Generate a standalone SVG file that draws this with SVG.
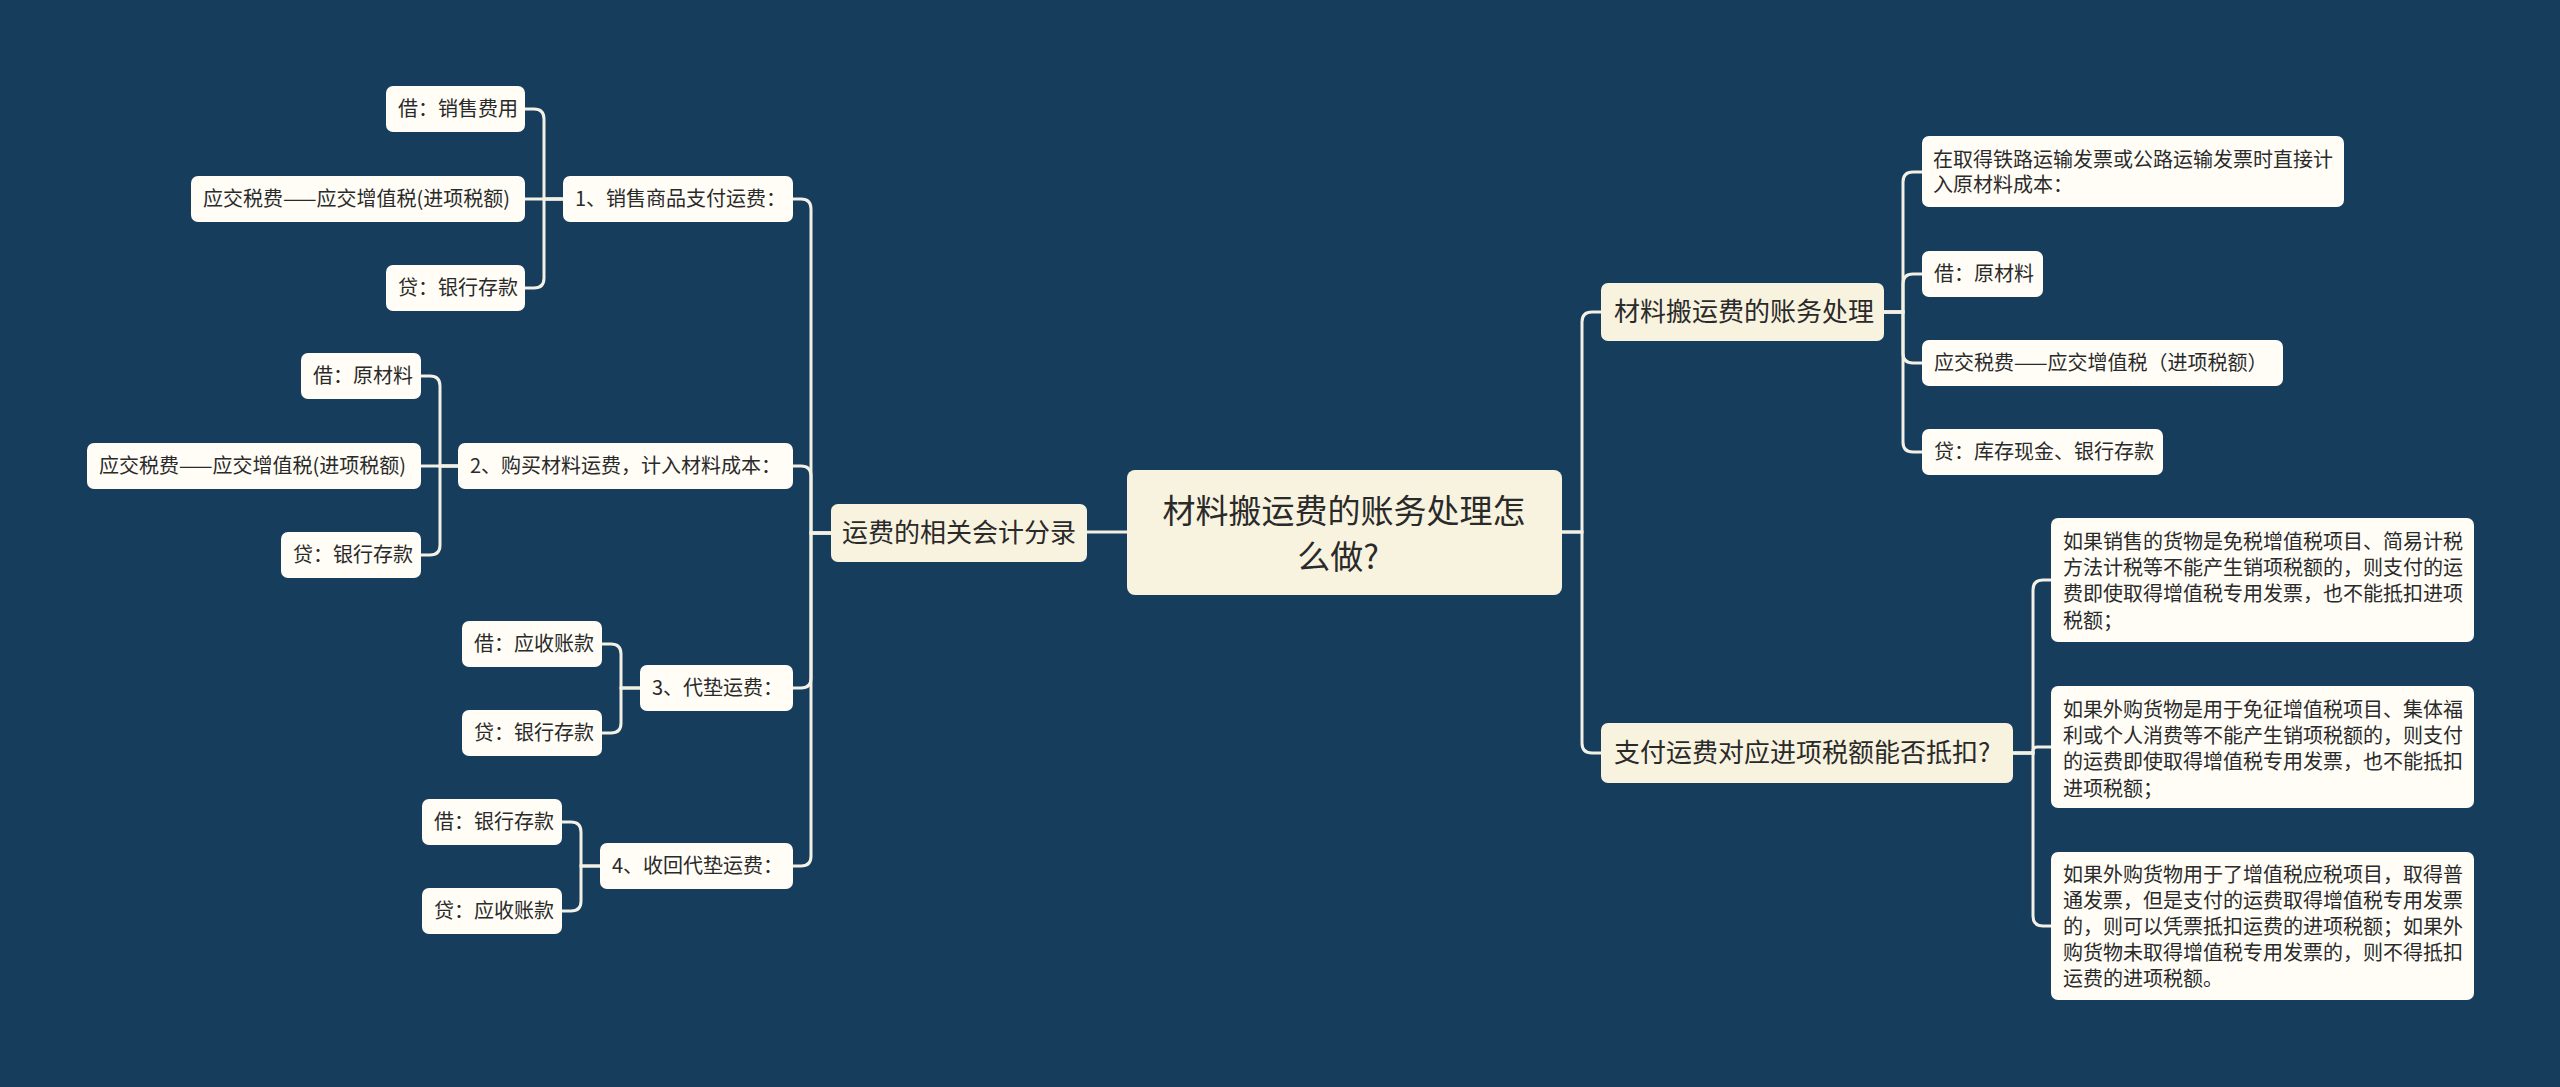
<svg xmlns="http://www.w3.org/2000/svg" width="2560" height="1087" viewBox="0 0 2560 1087">
<style>
text{font-family:"Noto Sans CJK SC","Noto Sans",sans-serif;fill:#2a2a2a}
.leaf{fill:#fffdf6}
.main{fill:#f8f3df}
.t20{font-size:20px}
.t26{font-size:26px}
.t33{font-size:33px}
.conn path{fill:none;stroke:#f3f0e6;stroke-width:3}
</style>
<rect x="0" y="0" width="2560" height="1087" fill="#173d5d"/>
<g class="conn" id="connectors">
<path d="M1127 532 H1087"/>
<path d="M831 533 H811 V209 Q811 199 801 199 H793"/>
<path d="M831 533 H811 V476 Q811 466 801 466 H793"/>
<path d="M831 533 H811 V678 Q811 688 801 688 H793"/>
<path d="M831 533 H811 V856 Q811 866 801 866 H793"/>
<path d="M563 199 H544 V119 Q544 109 534 109 H525"/>
<path d="M563 199 H525"/>
<path d="M563 199 H544 V278 Q544 288 534 288 H525"/>
<path d="M458 466 H440 V386 Q440 376 430 376 H421"/>
<path d="M458 466 H421"/>
<path d="M458 466 H440 V545 Q440 555 430 555 H421"/>
<path d="M640 688 H621 V654 Q621 644 611 644 H602"/>
<path d="M640 688 H621 V723 Q621 733 611 733 H602"/>
<path d="M600 866 H581 V832 Q581 822 571 822 H562"/>
<path d="M600 866 H581 V901 Q581 911 571 911 H562"/>
<path d="M1562 532 H1582 V322 Q1582 312 1592 312 H1601"/>
<path d="M1562 532 H1582 V743 Q1582 753 1592 753 H1601"/>
<path d="M1884 312 H1903 V182 Q1903 172 1913 172 H1922"/>
<path d="M1884 312 H1903 V284 Q1903 274 1913 274 H1922"/>
<path d="M1884 312 H1903 V353 Q1903 363 1913 363 H1922"/>
<path d="M1884 312 H1903 V442 Q1903 452 1913 452 H1922"/>
<path d="M2013 753 H2033 V590 Q2033 580 2043 580 H2051"/>
<path d="M2013 753 H2033 V751 Q2033 747 2037 747 H2051"/>
<path d="M2013 753 H2033 V916 Q2033 926 2043 926 H2051"/>
</g>
<g id="root">
<rect class="main" x="1127" y="470" width="435" height="125" rx="8"/>
<text class="t33" x="1344" y="523" text-anchor="middle">材料搬运费的账务处理怎</text>
<text class="t33" x="1338" y="569" text-anchor="middle">么做?</text>
</g>
<g id="branch-left">
<rect class="main" x="831" y="504" width="256" height="58" rx="7"/>
<text class="t26" x="842" y="542">运费的相关会计分录</text>
</g>
<g id="l1">
<rect class="leaf" x="563" y="176" width="230" height="46" rx="7"/>
<text class="t20" x="575" y="206">1、销售商品支付运费：</text>
</g>
<g id="l1a">
<rect class="leaf" x="386" y="86" width="139" height="46" rx="7"/>
<text class="t20" x="398" y="116">借：销售费用</text>
</g>
<g id="l1b">
<rect class="leaf" x="191" y="176" width="334" height="46" rx="7"/>
<text class="t20" x="203" y="206">应交税费——应交增值税(进项税额)</text>
</g>
<g id="l1c">
<rect class="leaf" x="386" y="265" width="139" height="46" rx="7"/>
<text class="t20" x="398" y="295">贷：银行存款</text>
</g>
<g id="l2">
<rect class="leaf" x="458" y="443" width="335" height="46" rx="7"/>
<text class="t20" x="470" y="473">2、购买材料运费，计入材料成本：</text>
</g>
<g id="l2a">
<rect class="leaf" x="301" y="353" width="120" height="46" rx="7"/>
<text class="t20" x="313" y="383">借：原材料</text>
</g>
<g id="l2b">
<rect class="leaf" x="87" y="443" width="334" height="46" rx="7"/>
<text class="t20" x="99" y="473">应交税费——应交增值税(进项税额)</text>
</g>
<g id="l2c">
<rect class="leaf" x="281" y="532" width="140" height="46" rx="7"/>
<text class="t20" x="293" y="562">贷：银行存款</text>
</g>
<g id="l3">
<rect class="leaf" x="640" y="665" width="153" height="46" rx="7"/>
<text class="t20" x="652" y="695">3、代垫运费：</text>
</g>
<g id="l3a">
<rect class="leaf" x="462" y="621" width="140" height="46" rx="7"/>
<text class="t20" x="474" y="651">借：应收账款</text>
</g>
<g id="l3b">
<rect class="leaf" x="462" y="710" width="140" height="46" rx="7"/>
<text class="t20" x="474" y="740">贷：银行存款</text>
</g>
<g id="l4">
<rect class="leaf" x="600" y="843" width="193" height="46" rx="7"/>
<text class="t20" x="612" y="873">4、收回代垫运费：</text>
</g>
<g id="l4a">
<rect class="leaf" x="422" y="799" width="140" height="46" rx="7"/>
<text class="t20" x="434" y="829">借：银行存款</text>
</g>
<g id="l4b">
<rect class="leaf" x="422" y="888" width="140" height="46" rx="7"/>
<text class="t20" x="434" y="918">贷：应收账款</text>
</g>
<g id="branch-r1">
<rect class="main" x="1601" y="283" width="283" height="58" rx="7"/>
<text class="t26" x="1614" y="321">材料搬运费的账务处理</text>
</g>
<g id="r1a">
<rect class="leaf" x="1922" y="136" width="422" height="71" rx="7"/>
<text class="t20" x="1933" y="167">在取得铁路运输发票或公路运输发票时直接计</text>
<text class="t20" x="1933" y="192">入原材料成本：</text>
</g>
<g id="r1b">
<rect class="leaf" x="1922" y="251" width="121" height="46" rx="7"/>
<text class="t20" x="1934" y="281">借：原材料</text>
</g>
<g id="r1c">
<rect class="leaf" x="1922" y="340" width="361" height="46" rx="7"/>
<text class="t20" x="1934" y="370">应交税费——应交增值税（进项税额）</text>
</g>
<g id="r1d">
<rect class="leaf" x="1922" y="429" width="241" height="46" rx="7"/>
<text class="t20" x="1934" y="459">贷：库存现金、银行存款</text>
</g>
<g id="branch-r2">
<rect class="main" x="1601" y="723" width="412" height="60" rx="7"/>
<text class="t26" x="1614" y="762">支付运费对应进项税额能否抵扣?</text>
</g>
<g id="r2a">
<rect class="leaf" x="2051" y="518" width="423" height="124" rx="7"/>
<text class="t20" x="2063" y="549">如果销售的货物是免税增值税项目、简易计税</text>
<text class="t20" x="2063" y="575">方法计税等不能产生销项税额的，则支付的运</text>
<text class="t20" x="2063" y="601">费即使取得增值税专用发票，也不能抵扣进项</text>
<text class="t20" x="2063" y="628">税额；</text>
</g>
<g id="r2b">
<rect class="leaf" x="2051" y="686" width="423" height="122" rx="7"/>
<text class="t20" x="2063" y="717">如果外购货物是用于免征增值税项目、集体福</text>
<text class="t20" x="2063" y="743">利或个人消费等不能产生销项税额的，则支付</text>
<text class="t20" x="2063" y="769">的运费即使取得增值税专用发票，也不能抵扣</text>
<text class="t20" x="2063" y="796">进项税额；</text>
</g>
<g id="r2c">
<rect class="leaf" x="2051" y="852" width="423" height="148" rx="7"/>
<text class="t20" x="2063" y="882">如果外购货物用于了增值税应税项目，取得普</text>
<text class="t20" x="2063" y="908">通发票，但是支付的运费取得增值税专用发票</text>
<text class="t20" x="2063" y="934">的，则可以凭票抵扣运费的进项税额；如果外</text>
<text class="t20" x="2063" y="960">购货物未取得增值税专用发票的，则不得抵扣</text>
<text class="t20" x="2063" y="986">运费的进项税额。</text>
</g>
</svg>
